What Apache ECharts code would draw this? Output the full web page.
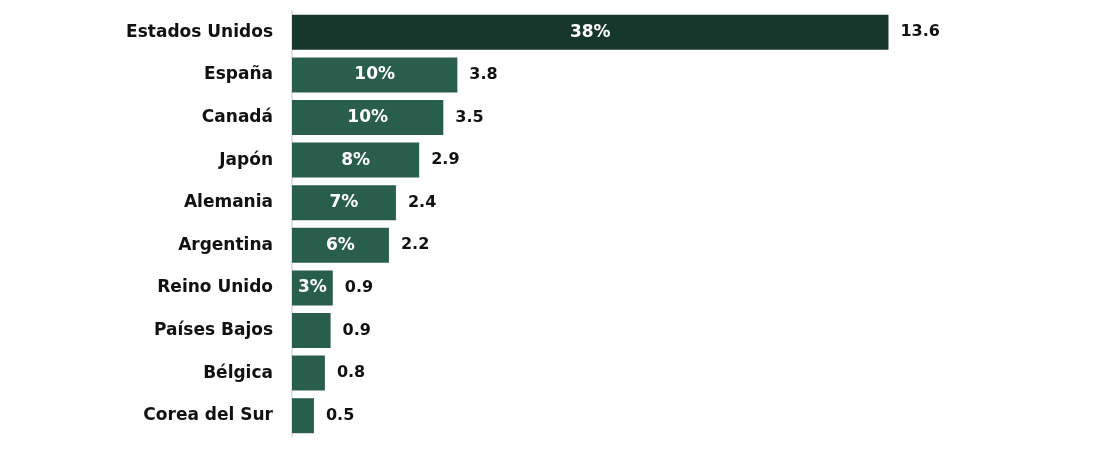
<!DOCTYPE html>
<html>
<head>
<meta charset="utf-8">
<script src="https://cdn.jsdelivr.net/npm/echarts@6/dist/echarts.min.js"></script>
<style>
html,body{margin:0;padding:0;background:#fff;}
#chart{width:1100px;height:449px;}
</style>
</head>
<body>
<div id="chart"></div>
<script>
const categories = ['Estados Unidos','España','Canadá','Japón','Alemania','Argentina','Reino Unido','Países Bajos','Bélgica','Corea del Sur'];
const values = [13.6, 3.77, 3.45, 2.9, 2.37, 2.21, 0.93, 0.88, 0.75, 0.5];
const shares = ['38%','10%','10%','8%','7%','6%','3%','','',''];
const darkColor = '#17372D';
const barColor = '#2A5E4C';
const FONT = 'DejaVu Sans';

const chart = echarts.init(document.getElementById('chart'));
chart.setOption({
  animation: false,
  grid: {left: 292, right: 194, top: 11, bottom: 12},
  xAxis: {type: 'value', min: 0, max: 14, show: false},
  yAxis: {
    type: 'category', data: categories, inverse: true,
    axisLine: {lineStyle: {color: '#d9d9d9', width: 1.5}},
    axisTick: {show: false},
    axisLabel: {margin: 19, fontSize: 17, fontWeight: 'bold', color: '#111111', fontFamily: FONT}
  },
  series: [
    {
      type: 'bar', barWidth: 35,
      data: values.map((v, i) => ({value: v, itemStyle: {color: i === 0 ? darkColor : barColor}})),
      label: {
        show: true, position: 'inside', color: '#ffffff', fontSize: 17, fontWeight: 'bold', fontFamily: FONT,
        formatter: p => shares[p.dataIndex]
      }
    },
    {
      type: 'bar', barWidth: 35, barGap: '-100%', silent: true,
      data: values,
      itemStyle: {color: 'rgba(0,0,0,0)'},
      label: {
        show: true, position: 'right', distance: 12, color: '#111111', fontSize: 16, fontWeight: 'bold', fontFamily: FONT,
        formatter: p => p.value.toFixed(1)
      }
    }
  ]
});
</script>
</body>
</html>
